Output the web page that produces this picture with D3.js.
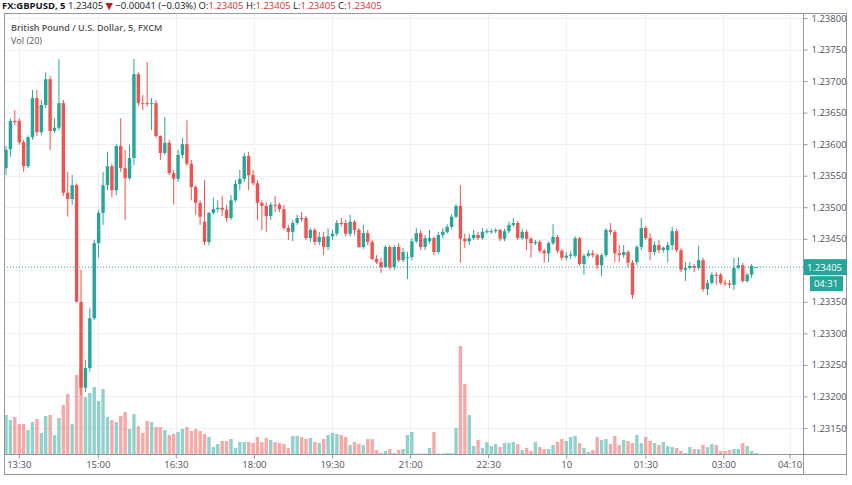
<!DOCTYPE html>
<html>
<head>
<meta charset="utf-8">
<script src="https://cdn.jsdelivr.net/npm/d3@7"></script>
<style>
  body { margin: 0; background: #fff; font-family: "Open Sans", "DejaVu Sans", sans-serif; }
  svg text { font-family: "Open Sans", "DejaVu Sans", sans-serif; }
</style>
</head>
<body>
<script>
// prices are written as pipettes above 1.23000 (price = 1.23 + v / 100000)
const opens = [562,592,637,637,603,565,611,673,619,662,
  703,621,626,665,523,513,535,350,214,245,
  324,443,491,535,565,527,597,562,546,578,
  711,665,665,664,665,613,586,602,554,545,
  583,600,569,532,507,477,445,491,497,499,
  496,483,511,537,545,581,551,538,507,502,
  486,504,504,497,467,461,475,483,483,451,
  464,445,453,437,454,458,475,475,458,
  477,464,437,459,445,418,413,405,437,405,
  437,416,420,421,446,459,437,446,
  451,429,456,461,469,485,502,450,446,451,
  456,451,461,462,462,464,450,462,472,475,451,
  461,450,443,445,431,427,443,453,431,420,423,
  423,451,410,423,427,424,408,424,464,461,
  427,424,429,412,413,437,467,451,429,440,432,
  432,440,462,432,401,404,407,404,416,370,
  380,393,393,380,379,377,404,408,383,393,405];
const highs = [597,641,654,641,607,614,686,686,670,714,
  708,641,735,670,556,551,538,401,258,340,
  448,496,556,588,569,600,641,591,599,735,
  714,678,730,673,670,614,643,607,559,591,
  610,638,575,535,511,543,492,515,511,518,
  504,519,543,559,586,588,559,543,511,508,
  508,518,507,504,472,480,488,492,486,467,
  467,461,461,467,464,480,483,480,488,
  480,467,472,464,448,424,420,440,440,440,
  443,435,429,451,467,464,456,464,
  454,461,467,473,489,505,535,458,458,464,
  461,467,466,466,467,466,466,477,483,478,466,
  464,453,448,448,434,446,473,456,434,429,430,
  454,453,426,432,432,427,427,467,475,464,
  440,440,432,416,440,483,470,459,446,448,438,
  445,469,466,435,413,413,410,439,420,385,
  397,397,396,385,385,420,421,412,396,410,405];
const lows = [551,580,630,599,556,562,607,613,614,657,
  591,618,622,518,485,504,365,202,207,239,
  321,420,472,527,516,519,556,480,543,567,
  660,654,660,622,610,575,583,551,504,540,
  578,565,511,488,472,440,440,488,492,486,
  477,480,508,527,540,527,535,480,464,461,
  480,492,492,464,448,446,472,477,448,445,
  440,440,424,432,448,454,470,454,454,
  456,435,434,440,416,410,396,404,401,401,
  413,413,386,416,443,432,432,443,
  424,426,451,458,465,483,412,435,440,448,
  448,448,458,458,459,446,446,459,469,448,448,
  432,420,440,427,412,413,440,427,416,416,418,
  420,407,393,420,420,401,391,421,456,413,
  413,420,404,355,408,432,448,416,424,427,428,
  413,432,429,397,383,401,397,401,366,361,
  377,377,377,375,372,369,401,380,380,388,405];
const closes = [591,637,635,603,565,611,673,619,662,703,
  621,626,665,523,513,535,350,214,245,324,
  443,491,535,565,527,597,562,546,578,711,
  665,664,664,665,613,586,602,554,545,583,
  600,569,532,507,485,445,491,497,499,496,
  483,511,537,545,581,551,538,507,502,486,
  504,503,497,467,461,475,483,481,451,464,
  445,453,437,454,458,475,474,458,477,
  464,437,459,445,418,413,405,437,405,437,
  416,429,421,446,459,437,451,451,
  429,456,461,469,485,502,450,446,451,456,
  451,461,462,462,464,450,462,472,475,451,461,
  450,443,445,431,427,443,453,431,420,423,425,
  451,410,423,427,424,408,424,464,461,427,
  424,429,412,361,437,467,451,429,440,432,436,
  440,462,432,401,404,407,404,416,370,380,
  393,392,380,379,377,404,408,383,393,407,405];
// volume (arbitrary units)
const volumes = [39,34,37,30,30,24,32,35,21,38,39,19,36,49,60,30,79,85,57,61,
  67,53,65,37,34,32,38,42,25,40,28,21,33,32,27,27,24,19,20,22,
  25,27,23,25,23,20,17,7,10,13,13,15,6,12,12,12,11,17,12,16,
  14,12,11,10,6,18,18,17,15,16,12,11,15,19,21,20,19,17,9,12,
  10,9,15,15,4,1,3,5,1,4,5,19,22,0.5,0.5,0.5,6,22,0.5,0.5,1,1,
  26,108,70,39,8,14,6,12,8,10,7,11,11,12,10,4,6,3,
  12,7,5,5,9,12,15,13,17,18,11,6,2,4,17,14,15,10,18,9,
  14,13,11,19,11,17,13,11,9,12,8,7,6,3,1,7,5,5,9,7,
  10,9,3,3,4,5,5,11,8,3,1];
const priceTicks = [1.23150,1.23200,1.23250,1.23300,1.23350,1.23400,1.23450,1.23500,1.23550,1.23600,1.23650,1.23700,1.23750,1.23800];
const timeLabels = ["13:30","15:00","16:30","18:00","19:30","21:00","22:30","10","01:30","03:00","04:10"];
const timeAtCandle = [2.9,20.8,38.5,56.2,73.9,91.6,109.3,127,144.9,162.6,177.6];
const lastPrice = 1.23405;

const W = 852, H = 485;
const up = "#26a69a", down = "#ef5350";
const plot = {left: 4, right: 803, top: 13, bottom: 454};

const svg = d3.select("body").append("svg").attr("width", W).attr("height", H);

const price = v => 1.23 + v / 100000;
const candles = opens.map((o, i) => ({
  i: i, o: price(o), h: price(highs[i]), l: price(lows[i]), c: price(closes[i]), vol: volumes[i]
}));

const x = d3.scaleLinear().domain([0, candles.length - 1]).range([6, 756]);
const y = d3.scaleLinear().domain([1.23150, 1.23800]).range([428, 18]);
const yVol = d3.scaleLinear().domain([0, 120]).range([plot.bottom, plot.bottom - 120]);

// grid
const grid = svg.append("g").attr("stroke", "#edf1f6").attr("stroke-width", 1);
grid.selectAll(".hg").data(priceTicks).enter().append("line")
  .attr("x1", plot.left).attr("x2", plot.right)
  .attr("y1", d => Math.round(y(d)) + 0.5).attr("y2", d => Math.round(y(d)) + 0.5);
grid.selectAll(".vg").data(timeAtCandle).enter().append("line")
  .attr("x1", d => Math.round(x(d)) + 0.5).attr("x2", d => Math.round(x(d)) + 0.5)
  .attr("y1", plot.top).attr("y2", plot.bottom);

// volume
const bw = 3.4;
svg.append("g").selectAll("rect").data(candles).enter().append("rect")
  .attr("x", d => x(d.i) - bw / 2)
  .attr("y", d => yVol(d.vol))
  .attr("width", bw)
  .attr("height", d => plot.bottom - yVol(d.vol))
  .attr("fill", d => d.c >= d.o ? up : down)
  .attr("fill-opacity", 0.5);

// candles
const gc = svg.append("g");
gc.selectAll("line").data(candles).enter().append("line")
  .attr("x1", d => x(d.i)).attr("x2", d => x(d.i))
  .attr("y1", d => y(d.h)).attr("y2", d => y(d.l))
  .attr("stroke", d => d.c >= d.o ? up : down).attr("stroke-width", 1);
gc.selectAll("rect").data(candles).enter().append("rect")
  .attr("x", d => x(d.i) - bw / 2)
  .attr("y", d => y(Math.max(d.o, d.c)))
  .attr("width", bw)
  .attr("height", d => Math.max(1, Math.abs(y(d.o) - y(d.c))))
  .attr("fill", d => d.c >= d.o ? up : down);

// last price line
svg.append("line")
  .attr("x1", plot.left).attr("x2", plot.right)
  .attr("y1", y(lastPrice)).attr("y2", y(lastPrice))
  .attr("stroke", up).attr("stroke-width", 1).attr("stroke-dasharray", "1,2");

// frame
svg.append("rect").attr("x", plot.left + 0.5).attr("y", plot.top + 0.5)
  .attr("width", 847 - plot.left - 1).attr("height", 475 - plot.top - 1)
  .attr("fill", "none").attr("stroke", "#9598a1");
svg.append("line").attr("x1", plot.right + 0.5).attr("x2", plot.right + 0.5)
  .attr("y1", plot.top).attr("y2", 475).attr("stroke", "#9598a1");
svg.append("line").attr("x1", plot.left).attr("x2", 847)
  .attr("y1", plot.bottom + 0.5).attr("y2", plot.bottom + 0.5).attr("stroke", "#9598a1");

// price axis (the tick under the last-price label is hidden)
const shownTicks = priceTicks.filter(t => Math.abs(y(t) - y(lastPrice)) > 12);
const yAxis = d3.axisRight(y).tickValues(shownTicks).tickFormat(d3.format(".5f")).tickSize(4).tickPadding(4);
const ya = svg.append("g").attr("transform", `translate(${plot.right + 0.5},0)`).call(yAxis);
ya.select(".domain").remove();
ya.selectAll("line").attr("stroke", "#9598a1");
ya.selectAll("text").attr("fill", "#4c525e").attr("font-size", 9.5);

// time axis
const xAxis = d3.axisBottom(x).tickValues(timeAtCandle).tickFormat((d, i) => timeLabels[i]).tickSize(4).tickPadding(3);
const xa = svg.append("g").attr("transform", `translate(0,${plot.bottom + 0.5})`).call(xAxis);
xa.select(".domain").remove();
xa.selectAll("line").attr("stroke", "#9598a1");
xa.selectAll("text").attr("fill", "#4c525e").attr("font-size", 9.5);

// last price label
svg.append("rect").attr("x", plot.right + 1).attr("y", y(lastPrice) - 8)
  .attr("width", 43).attr("height", 16).attr("fill", up);
svg.append("text").attr("x", 842).attr("y", y(lastPrice) + 3.5).attr("text-anchor", "end")
  .attr("fill", "#fff").attr("font-size", 9.5).text(d3.format(".5f")(lastPrice));
svg.append("rect").attr("x", 810).attr("y", y(lastPrice) + 9)
  .attr("width", 33).attr("height", 15).attr("fill", up);
svg.append("text").attr("x", 826).attr("y", y(lastPrice) + 20).attr("text-anchor", "middle")
  .attr("fill", "#fff").attr("font-size", 9.5).text("04:31");

// header
const hd = svg.append("text").attr("x", 2).attr("y", 9).attr("font-size", 9.5).attr("fill", "#131722");
hd.append("tspan").attr("font-weight", "bold").text("FX:GBPUSD, 5 ");
hd.append("tspan").text(" 1.23405 ");
hd.append("tspan").attr("fill", "#b71c1c").text("▼");
hd.append("tspan").text(" −0.00041 (−0.03%) O:");
hd.append("tspan").attr("fill", "#d32f2f").text("1.23405");
hd.append("tspan").text(" H:");
hd.append("tspan").attr("fill", "#d32f2f").text("1.23405");
hd.append("tspan").text(" L:");
hd.append("tspan").attr("fill", "#d32f2f").text("1.23405");
hd.append("tspan").text(" C:");
hd.append("tspan").attr("fill", "#d32f2f").text("1.23405");

svg.append("text").attr("x", 11).attr("y", 31).attr("font-size", 9).attr("font-weight", 600)
  .attr("fill", "#555").text("British Pound / U.S. Dollar, 5, FXCM");
svg.append("text").attr("x", 11).attr("y", 44).attr("font-size", 9)
  .attr("fill", "#555").text("Vol (20)");
</script>
</body>
</html>
